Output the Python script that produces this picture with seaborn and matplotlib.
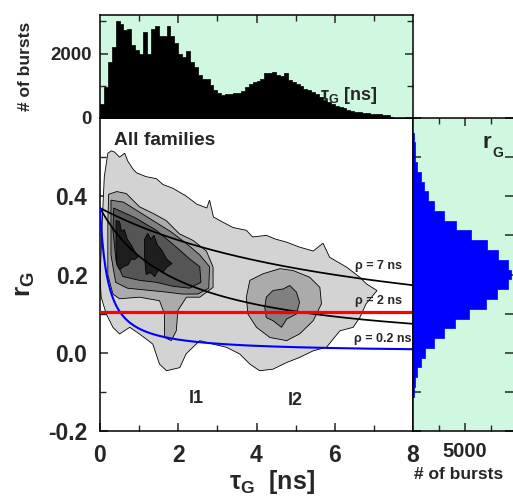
import numpy as np
import pandas as pd
import matplotlib
matplotlib.use("Agg")
import matplotlib.pyplot as plt
import seaborn as sns
from matplotlib.ticker import MultipleLocator, FixedLocator

# ---------------- data ----------------
# top histogram: number of bursts per 0.1 ns bin of tau_G (bins 0-0.1, 0.1-0.2, ... 7.9-8.0)
tau_edges = [round(0.1 * k, 2) for k in range(81)]
tau_counts = [425, 960, 1740, 2200, 3010, 2930, 2745, 2780, 2280, 2100,
              2000, 2670, 2000, 2780, 2860, 2550, 2540, 2860, 2550, 2330,
              1980, 1900, 2080, 1740, 1585, 1330, 1220, 1220, 1015, 860,
              780, 725, 755, 755, 790, 790, 840, 960, 1065, 1120,
              1140, 1220, 1400, 1400, 1430, 1330, 1295, 1400, 1190, 1120,
              1065, 985, 910, 860, 810, 735, 650, 570, 500, 425,
              360, 340, 310, 260, 220, 200, 185, 165, 155, 135,
              125, 115, 95, 85, 40, 15, 10, 8, 5, 5]

# right histogram: number of bursts per 0.025 bin of r_G (bin centres)
r_centers = [-0.1, -0.075, -0.05, -0.025, 0.0, 0.025, 0.05, 0.075, 0.1, 0.125,
             0.15, 0.175, 0.2, 0.225, 0.25, 0.275, 0.3, 0.325, 0.35, 0.375,
             0.4, 0.425, 0.45, 0.475, 0.5, 0.525, 0.55]
r_counts = [100, 160, 420, 740, 1190, 1990, 2980, 4010, 5380, 6960,
            8110, 9135, 9420, 9100, 8150, 7120, 5580, 4130, 3000, 1990,
            1440, 1100, 800, 410, 220, 150, 60]

# 2D frequency contours (tau_G, r_G), outermost level first
c1_tau = [0.0, 0.03, 0.07, 0.11, 0.2, 0.29, 0.37, 0.5, 0.63, 0.71, 0.84, 0.93, 1.18, 1.44,
          1.61, 1.87, 2.21, 2.47, 2.73, 2.8, 2.9, 3.06, 3.4, 3.74, 3.9, 4.25, 4.5, 4.76,
          5.1, 5.45, 5.7, 5.87, 6.3, 6.64, 6.81, 7.08, 6.8, 6.64, 6.47, 6.13, 5.79, 5.45,
          5.1, 4.77, 4.42, 4.08, 3.83, 3.57, 3.23, 2.89, 2.55, 2.2, 2.04, 1.7, 1.52, 1.35,
          1.01, 0.76, 0.5, 0.33, 0.16, 0.03, 0.0]
c1_r = [0.193, 0.26, 0.364, 0.45, 0.51, 0.516, 0.513, 0.5, 0.51, 0.49, 0.47, 0.46, 0.45, 0.445,
        0.43, 0.42, 0.4, 0.38, 0.37, 0.39, 0.347, 0.338, 0.32, 0.313, 0.296, 0.3, 0.29, 0.283,
        0.27, 0.26, 0.28, 0.244, 0.219, 0.193, 0.176, 0.159, 0.125, 0.09, 0.065, 0.056, 0.014, 0.005,
        -0.012, -0.025, -0.042, -0.046, -0.029, -0.003, 0.014, 0.022, 0.031, -0.003, -0.038, -0.046, -0.029, 0.022,
        0.048, 0.065, 0.048, 0.065, 0.099, 0.142, 0.193]
c2a_tau = [0.22, 0.43, 0.67, 1.01, 1.36, 1.69, 2.03, 2.38, 2.72, 2.89, 2.89, 2.55, 2.21, 1.99,
           1.95, 1.82, 1.65, 1.65, 1.52, 1.01, 0.5, 0.33, 0.2, 0.2]
c2a_r = [0.405, 0.412, 0.407, 0.373, 0.356, 0.338, 0.304, 0.287, 0.26, 0.219, 0.167, 0.142, 0.142, 0.108,
         0.056, 0.031, 0.039, 0.099, 0.133, 0.142, 0.138, 0.15, 0.2, 0.33]
c2b_tau = [3.74, 3.83, 4.17, 4.6, 4.94, 5.36, 5.62, 5.66, 5.45, 5.1, 4.77, 4.34, 4.0, 3.78]
c2b_r = [0.142, 0.185, 0.202, 0.215, 0.21, 0.193, 0.167, 0.125, 0.082, 0.048, 0.031, 0.039, 0.065, 0.099]
c3a_tau = [0.28, 0.6, 1.0, 1.4, 1.8, 2.2, 2.55, 2.8, 2.78, 2.5, 2.1, 1.7, 1.2, 0.7, 0.4, 0.28]
c3a_r = [0.39, 0.385, 0.36, 0.335, 0.31, 0.28, 0.25, 0.22, 0.165, 0.15, 0.15, 0.155, 0.16, 0.165, 0.18, 0.25]
c3b_tau = [4.25, 4.42, 4.68, 4.85, 5.02, 5.1, 5.02, 4.77, 4.64, 4.42, 4.25, 4.21]
c3b_r = [0.142, 0.159, 0.163, 0.172, 0.155, 0.129, 0.099, 0.086, 0.065, 0.082, 0.09, 0.116]
c4_tau = [0.35, 0.9, 1.44, 1.95, 2.29, 2.55, 2.58, 2.29, 1.86, 1.44, 1.01, 0.58, 0.41, 0.33]
c4_r = [0.37, 0.345, 0.313, 0.27, 0.24, 0.22, 0.18, 0.165, 0.17, 0.18, 0.185, 0.195, 0.235, 0.313]
c5a_tau = [0.41, 0.5, 0.55, 0.62, 0.7, 0.8, 0.88, 0.97, 0.88, 0.8, 0.72, 0.6, 0.5, 0.43, 0.41]
c5a_r = [0.338, 0.335, 0.31, 0.315, 0.29, 0.275, 0.26, 0.245, 0.238, 0.24, 0.225, 0.22, 0.212, 0.225, 0.27]
c5b_tau = [1.14, 1.22, 1.3, 1.38, 1.47, 1.58, 1.7, 1.84, 1.7, 1.6, 1.5, 1.4, 1.28, 1.18, 1.14]
c5b_r = [0.29, 0.305, 0.29, 0.30, 0.275, 0.262, 0.24, 0.228, 0.218, 0.205, 0.212, 0.195, 0.205, 0.2, 0.245]
contour_shapes = [(c1_tau, c1_r, 1), (c2a_tau, c2a_r, 2), (c2b_tau, c2b_r, 2),
                  (c3a_tau, c3a_r, 3), (c3b_tau, c3b_r, 3), (c4_tau, c4_r, 4),
                  (c5a_tau, c5a_r, 5), (c5b_tau, c5b_r, 5)]
level_colors = {1: "#d3d3d3", 2: "#ababab", 3: "#808080", 4: "#555555", 5: "#1e1e1e"}

# Perrin lines
r0 = 0.37
rho_values = [7.0, 2.0, 0.2]
rho_colors = ["black", "black", "blue"]
rho_labels = ["ρ = 7 ns", "ρ = 2 ns", "ρ = 0.2 ns"]
rho_label_pos = [(6.52, 0.215), (6.52, 0.125), (6.49, 0.028)]
r_limit = 0.105

# ---------------- style ----------------
sns.set_theme(style="ticks")
plt.rcParams["font.family"] = ["Liberation Sans", "DejaVu Sans"]
plt.rcParams["font.weight"] = "bold"
plt.rcParams["axes.labelweight"] = "bold"
plt.rcParams["mathtext.default"] = "regular"
plt.rcParams["xtick.direction"] = "in"
plt.rcParams["ytick.direction"] = "in"
plt.rcParams["axes.linewidth"] = 1.1
plt.rcParams["axes.edgecolor"] = "black"

W, H = 513, 496
fig = plt.figure(figsize=(W / 100, H / 100), dpi=100)
fig.patch.set_facecolor("white")

def frac(l, t, r, b):
    return [l / W, 1 - b / H, (r - l) / W, (b - t) / H]

ax = fig.add_axes(frac(100, 118, 413, 431))
axt = fig.add_axes(frac(100, 15, 413, 118))
axr = fig.add_axes(frac(413, 118, 513, 431))
green = "#d0f7e0"

# ---------------- main contour map ----------------
for ct, cr, lev in contour_shapes:
    ax.fill(ct, cr, facecolor=level_colors[lev], edgecolor="black", linewidth=0.6, zorder=1 + 0.1 * lev)

tline = np.linspace(0, 8, 400)
for rho, col in zip(rho_values, rho_colors):
    df_line = pd.DataFrame({"tau": tline, "r": r0 / (1 + tline / rho)})
    sns.lineplot(data=df_line, x="tau", y="r", ax=ax, color=col,
                 linewidth=1.25 if col == "black" else 1.5, estimator=None, zorder=3)
ax.axhline(r_limit, color="#ff0000", linewidth=2.3, zorder=3)
for lab, (x, y) in zip(rho_labels, rho_label_pos):
    ax.text(x, y, lab, fontsize=9, fontweight="bold", va="baseline", ha="left", zorder=4)
ax.text(0.37, 0.53, "All families", fontsize=13.8, fontweight="bold", va="baseline")
ax.text(2.47, -0.118, "I1", fontsize=13, fontweight="bold", ha="center", va="center")
ax.text(4.98, -0.123, "I2", fontsize=13, fontweight="bold", ha="center", va="center")

ax.set_xlim(0, 8)
ax.set_ylim(-0.2, 0.6)
ax.xaxis.set_major_locator(FixedLocator([0, 2, 4, 6, 8]))
ax.xaxis.set_minor_locator(FixedLocator([1, 3, 5, 7]))
ax.yaxis.set_major_locator(FixedLocator([-0.2, 0.0, 0.2, 0.4]))
ax.yaxis.set_minor_locator(FixedLocator([-0.1, 0.1, 0.3, 0.5]))
ax.set_yticklabels(["-0.2", "0.0", "0.2", "0.4"])
ax.tick_params(axis="both", which="major", labelsize=16.5, length=6, width=1.1, pad=9)
ax.tick_params(axis="both", which="minor", length=4, width=1.0)
ax.tick_params(top=False, right=False, which="both")
ax.set_xlabel("τ$_G$  [ns]", fontsize=18, fontweight="bold")
ax.set_ylabel("r$_G$", fontsize=19, fontweight="bold")
ax.xaxis.set_label_coords(0.55, -0.118)
ax.yaxis.set_label_coords(-0.20, 0.47)

# ---------------- top histogram ----------------
axt.set_facecolor(green)
df_tau = pd.DataFrame({"tau": [e + 0.05 for e in tau_edges[:-1]], "count": tau_counts})
sns.histplot(data=df_tau, x="tau", weights="count", bins=tau_edges, ax=axt,
             element="step", fill=True, color="black", alpha=1,
             edgecolor="black", linewidth=0.5)
axt.set_xlim(0, 8)
axt.set_ylim(0, 3200)
axt.xaxis.set_major_locator(FixedLocator([2, 4, 6]))
axt.xaxis.set_minor_locator(FixedLocator([1, 3, 5, 7]))
axt.yaxis.set_major_locator(FixedLocator([0, 2000]))
axt.yaxis.set_minor_locator(FixedLocator([1000, 3000]))
axt.tick_params(axis="x", which="both", bottom=False, top=True, labelbottom=False)
axt.tick_params(axis="y", which="both", left=True, right=True)
axt.tick_params(axis="both", which="major", labelsize=13.5, length=6, width=1.1, pad=6)
axt.tick_params(axis="both", which="minor", length=4, width=1.0)
axt.set_xlabel("")
axt.set_ylabel("# of bursts", fontsize=12.5, fontweight="bold")
axt.yaxis.set_label_coords(-0.215, 0.5)
axt.text(5.62, 700, "τ$_G$ [ns]", fontsize=13, fontweight="bold", va="center", ha="left")

# ---------------- right histogram ----------------
axr.set_facecolor(green)
r_edges = [round(-0.1125 + 0.025 * k, 4) for k in range(28)]
df_r = pd.DataFrame({"r": r_centers, "count": r_counts})
sns.histplot(data=df_r, y="r", weights="count", bins=r_edges, ax=axr,
             element="step", fill=True, color="#0000ff", alpha=1,
             edgecolor="#0000ff", linewidth=0.5)
axr.set_ylim(-0.2, 0.6)
axr.set_xlim(0, 9600)
axr.xaxis.set_major_locator(FixedLocator([5000]))
axr.xaxis.set_minor_locator(FixedLocator([2500, 7500]))
axr.yaxis.set_major_locator(MultipleLocator(0.1))
axr.tick_params(axis="y", which="both", left=True, right=True, labelleft=False)
axr.tick_params(axis="x", which="both", top=True, bottom=True)
axr.tick_params(axis="both", which="major", labelsize=14.5, length=6, width=1.1, pad=8)
axr.tick_params(axis="both", which="minor", length=4, width=1.0)
axr.spines["right"].set_visible(False)
axr.set_ylabel("")
axr.set_xlabel("# of bursts", fontsize=12.5, fontweight="bold")
axr.xaxis.set_label_coords(0.46, -0.115)
axr.text(0.70, 0.905, "r", transform=axr.transAxes, fontsize=16, fontweight="bold")
axr.text(0.79, 0.875, "G", transform=axr.transAxes, fontsize=10, fontweight="bold")

fig.savefig("out.png", dpi=100, facecolor="white")
